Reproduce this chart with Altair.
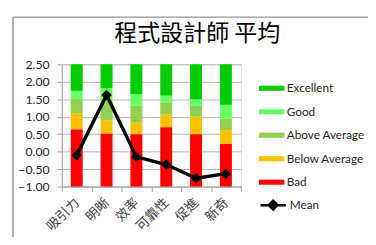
import altair as alt
import pandas as pd

categories = ["吸引力", "明晰", "效率", "可靠性", "促進", "新奇"]
series = ["Excellent", "Good", "Above Average", "Below Average", "Bad"]
colors = ["#00CC00", "#66FF66", "#92D050", "#FFC000", "#FF0000"]

bad_top = [0.64, 0.52, 0.50, 0.70, 0.50, 0.23]
below_top = [1.09, 0.90, 0.84, 1.06, 1.00, 0.62]
above_top = [1.51, 1.45, 1.31, 1.41, 1.31, 0.95]
good_top = [1.74, 1.82, 1.65, 1.60, 1.50, 1.34]
excellent_top = [2.50, 2.50, 2.50, 2.50, 2.50, 2.50]
mean_vals = [-0.10, 1.62, -0.15, -0.37, -0.76, -0.63]
y_ticks = [-1.0, -0.5, 0.0, 0.5, 1.0, 1.5, 2.0, 2.5]
axis_min = -1.0

rows = []
names = ["Bad", "Below Average", "Above Average", "Good", "Excellent"]
for i, c in enumerate(categories):
    bounds = [axis_min, bad_top[i], below_top[i], above_top[i], good_top[i], excellent_top[i]]
    for k, n in enumerate(names):
        rows.append({"cat": c, "series": n, "y0": bounds[k], "y1": bounds[k + 1]})
bars_df = pd.DataFrame(rows)
mean_df = pd.DataFrame({"cat": categories, "mean": mean_vals, "label": ["Mean"] * len(categories)})

LAT = "Lato, 'Noto Sans CJK TC', sans-serif"
CJK = "'Noto Sans CJK TC', 'Noto Sans', sans-serif"
GRAY = "#a0a0a0"

xscale = alt.Scale(domain=categories, paddingInner=0, paddingOuter=0)
yscale = alt.Scale(domain=[-1, 2.5], nice=False, zero=False)

x_axis = alt.Axis(title=None, labelAngle=-45, labelAlign="right", labelBaseline="middle",
                  labelFont=CJK, labelFontSize=13.5, labelColor="#404040", labelPadding=9,
                  labelOverlap=False, tickBand="extent", tickSize=5, tickColor=GRAY,
                  domainColor=GRAY, grid=False)
y_axis = alt.Axis(title=None, values=y_ticks, format=".2f",
                  labelFont=LAT, labelFontSize=12.5, labelColor="#262626", labelPadding=8,
                  labelOverlap=False, tickSize=5, tickColor=GRAY, domainColor=GRAY,
                  grid=True, gridColor="#b4b4b4")

bars = alt.Chart(bars_df).mark_bar(width={"band": 0.4}).encode(
    x=alt.X("cat:N", scale=xscale, sort=categories, axis=x_axis),
    y=alt.Y("y0:Q", scale=yscale, axis=y_axis),
    y2="y1:Q",
    color=alt.Color("series:N", scale=alt.Scale(domain=series, range=colors),
                    legend=alt.Legend(title=None, orient="none", legendX=208, legendY=18,
                                      symbolType="M-2,-0.4H2V0.4H-2Z", symbolSize=169,
                                      symbolStrokeWidth=0, labelFont=LAT, labelFontSize=12,
                                      labelColor="#262626", rowPadding=11, labelOffset=9)),
)

line = alt.Chart(mean_df).mark_line(strokeWidth=3.5).encode(
    x=alt.X("cat:N", scale=xscale, sort=categories, axis=x_axis),
    y=alt.Y("mean:Q", scale=yscale, axis=y_axis),
    stroke=alt.Stroke("label:N", scale=alt.Scale(domain=["Mean"], range=["black"]),
                      legend=alt.Legend(title=None, orient="none", legendX=208, legendY=136,
                                        symbolType="M-2,0H2M0,-0.7L0.7,0L0,0.7L-0.7,0Z",
                                        symbolSize=169, symbolStrokeWidth=2.5,
                                        symbolFillColor="black", labelFont=LAT, labelFontSize=12,
                                        labelColor="#262626", labelOffset=9)),
)

pts = alt.Chart(mean_df).mark_point(shape="diamond", filled=True, color="black", size=115, opacity=1).encode(
    x=alt.X("cat:N", scale=xscale, sort=categories, axis=x_axis),
    y=alt.Y("mean:Q", scale=yscale, axis=y_axis),
)

frame = alt.Chart(mean_df).mark_rect(fill=None, stroke="#b0b0b0", strokeWidth=1, clip=False).encode(
    x=alt.value(-50), x2=alt.value(400), y=alt.value(-48), y2=alt.value(300)
)

chart = alt.layer(frame, bars, line, pts).properties(
    width=183,
    height=125,
    title=alt.TitleParams("程式設計師 平均", font=CJK, fontSize=23.5, fontWeight="normal",
                          color="black", anchor="middle", dx=47, offset=-29),
    padding={"left": 55, "top": 55, "right": 130, "bottom": 49},
    autosize=alt.AutoSizeParams(type="none"),
).configure_view(stroke=None).configure(background="white")

chart.save("out.html", embed_options={"renderer": "svg", "actions": False})
